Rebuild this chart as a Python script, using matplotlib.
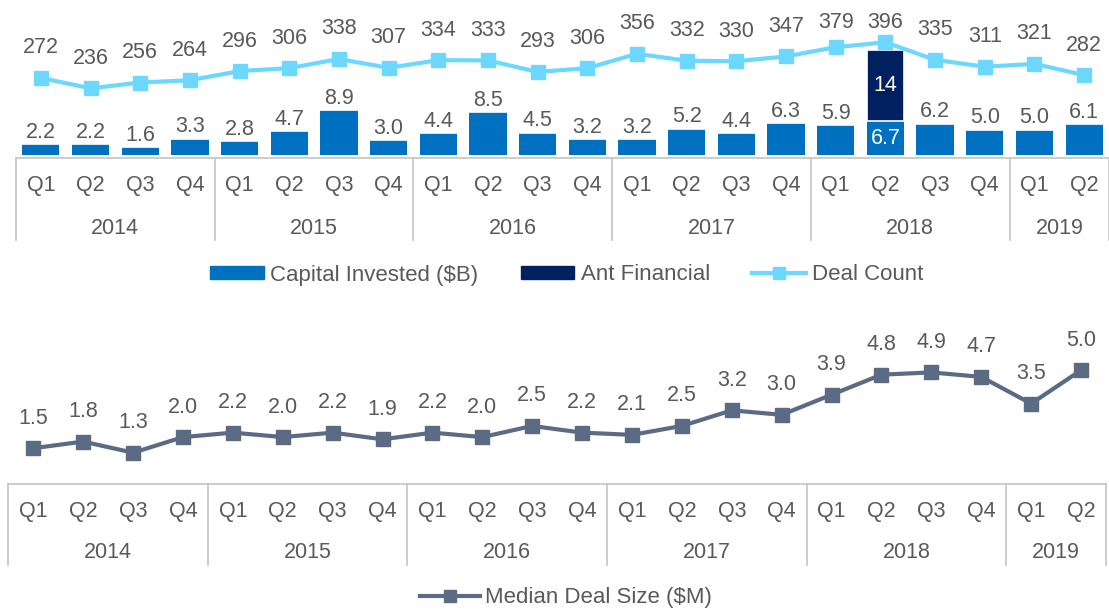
import matplotlib
matplotlib.use("Agg")
import matplotlib.pyplot as plt
from matplotlib.patches import Patch
from matplotlib.lines import Line2D
from matplotlib.transforms import blended_transform_factory

# ---------------- data ----------------
quarters = ["Q1", "Q2", "Q3", "Q4"] * 5 + ["Q1", "Q2"]
years = ["2014", "2015", "2016", "2017", "2018", "2019"]
year_sizes = [4, 4, 4, 4, 4, 2]
capital_invested = [2.2, 2.2, 1.6, 3.3, 2.8, 4.7, 8.9, 3.0, 4.4, 8.5, 4.5, 3.2,
                    3.2, 5.2, 4.4, 6.3, 5.9, 6.7, 6.2, 5.0, 5.0, 6.1]
ant_financial = [0, 0, 0, 0, 0, 0, 0, 0, 0, 0, 0, 0,
                 0, 0, 0, 0, 0, 14, 0, 0, 0, 0]
deal_count = [272, 236, 256, 264, 296, 306, 338, 307, 334, 333, 293, 306,
              356, 332, 330, 347, 379, 396, 335, 311, 321, 282]
median_deal = [1.5, 1.8, 1.3, 2.0, 2.2, 2.0, 2.2, 1.9, 2.2, 2.0, 2.5, 2.2,
               2.1, 2.5, 3.2, 3.0, 3.9, 4.8, 4.9, 4.7, 3.5, 5.0]

# ---------------- style ----------------
W, H = 1109, 609
DPI = 100
plt.rcParams["font.family"] = ["Liberation Sans", "DejaVu Sans"]
TXT = "#595959"
GRID = "#C8C8C8"
C_CAP = "#0070C0"
C_ANT = "#002060"
C_DEAL = "#6DD8FF"
C_MED = "#5B6B84"
FS = 15.5
FS_LEG = 16


def px(n):
    return n * 72.0 / DPI


fig = plt.figure(figsize=(W / DPI, H / DPI), dpi=DPI)


def axes_px(left, right, top, bottom):
    return fig.add_axes([left / W, 1 - bottom / H, (right - left) / W, (bottom - top) / H])


n = len(quarters)
x = list(range(n))

# ---------------- top chart ----------------
ax = axes_px(16, 1109, 5, 158)
ax.set_xlim(-0.5, n - 0.5)
ax.set_ylim(-0.51, 29.55)
ax2 = ax.twinx()
ax2.set_ylim(-6.43, 525.7)

ax.bar(x, capital_invested, width=0.75, color=C_CAP, zorder=2)
ax.bar(x, ant_financial, width=0.75, bottom=capital_invested, color=C_ANT,
       edgecolor="white", linewidth=1.2, zorder=2)
ax2.plot(x, deal_count, color=C_DEAL, lw=3, marker="s", markersize=10, zorder=3)


def to_top(axis, xv, yv):
    return H - axis.transData.transform((xv, yv))[1]


for i, (c, a) in enumerate(zip(capital_invested, ant_financial)):
    if a > 0:
        ax.text(i, c / 2, f"{c:.1f}", ha="center", va="center", color="white", fontsize=FS, zorder=5)
        ax.text(i, c + a / 2, f"{a:g}", ha="center", va="center", color="white", fontsize=FS, zorder=5)
    else:
        top = to_top(ax, i, c)
        want = min(136, top - 12)
        ax.annotate(f"{c:.1f}", xy=(i, c), xytext=(0, px(top - want)), textcoords="offset points",
                    ha="center", va="center", color=TXT, fontsize=FS, zorder=5)

for i, d in enumerate(deal_count):
    top = to_top(ax2, i, d)
    want = max(top - 30, 22)
    ax2.annotate(f"{d}", xy=(i, d), xytext=(0, px(top - want)), textcoords="offset points",
                 ha="center", va="center", color=TXT, fontsize=FS, zorder=5)


def category_axis(axis, h_px, depth, qoff, yoff):
    for s in axis.spines.values():
        s.set_visible(False)
    axis.set_xticks([])
    axis.set_yticks([])
    tr = blended_transform_factory(axis.transData, axis.transAxes)
    axis.plot([-0.5, n - 0.5], [0, 0], color=GRID, lw=1.3, transform=tr, clip_on=False, zorder=1)
    bounds = [-0.5]
    for s in year_sizes:
        bounds.append(bounds[-1] + s)
    for b in bounds:
        axis.plot([b, b], [0, -depth / h_px], color=GRID, lw=1.3, transform=tr, clip_on=False)
    for i, q in enumerate(quarters):
        axis.annotate(q, xy=(i, 0), xycoords=tr, xytext=(0, -px(qoff)), textcoords="offset points",
                      ha="center", va="center", color=TXT, fontsize=FS)
    for k, yl in enumerate(years):
        mid = (bounds[k] + bounds[k + 1]) / 2
        axis.annotate(yl, xy=(mid, 0), xycoords=tr, xytext=(0, -px(yoff)), textcoords="offset points",
                      ha="center", va="center", color=TXT, fontsize=FS)


category_axis(ax, 153, 82, 28, 70)
for s in ax2.spines.values():
    s.set_visible(False)
ax2.set_yticks([])

handles = [Patch(color=C_CAP, label="Capital Invested ($B)"),
           Patch(color=C_ANT, label="Ant Financial"),
           Line2D([], [], color=C_DEAL, lw=3, marker="s", markersize=8, label="Deal Count")]
fig.legend(handles=handles, loc="center", bbox_to_anchor=(567 / W, 1 - 275 / H), ncol=3,
           frameon=False, fontsize=FS_LEG, labelcolor=TXT, handlelength=2.4, handleheight=0.5,
           handletextpad=0.3, columnspacing=1.9)

# ---------------- bottom chart ----------------
bx = axes_px(8.35, 1106, 340, 484)
bx.set_xlim(-0.5, n - 0.5)
bx.set_ylim(-0.103, 6.354)
bx.plot(x, median_deal, color=C_MED, lw=3, marker="s", markersize=10, zorder=3)
for i, m in enumerate(median_deal):
    bx.annotate(f"{m:.1f}", xy=(i, m), xytext=(0, px(30)), textcoords="offset points",
                ha="center", va="center", color=TXT, fontsize=FS, annotation_clip=False)
category_axis(bx, 144, 81, 28, 69)

fig.legend(handles=[Line2D([], [], color=C_MED, lw=3, marker="s", markersize=9,
                           label="Median Deal Size ($M)")],
           loc="center", bbox_to_anchor=(566 / W, 1 - 598 / H), frameon=False, fontsize=FS_LEG,
           labelcolor=TXT, handlelength=2.7, handletextpad=0.2)

fig.savefig("out.png", dpi=DPI)
